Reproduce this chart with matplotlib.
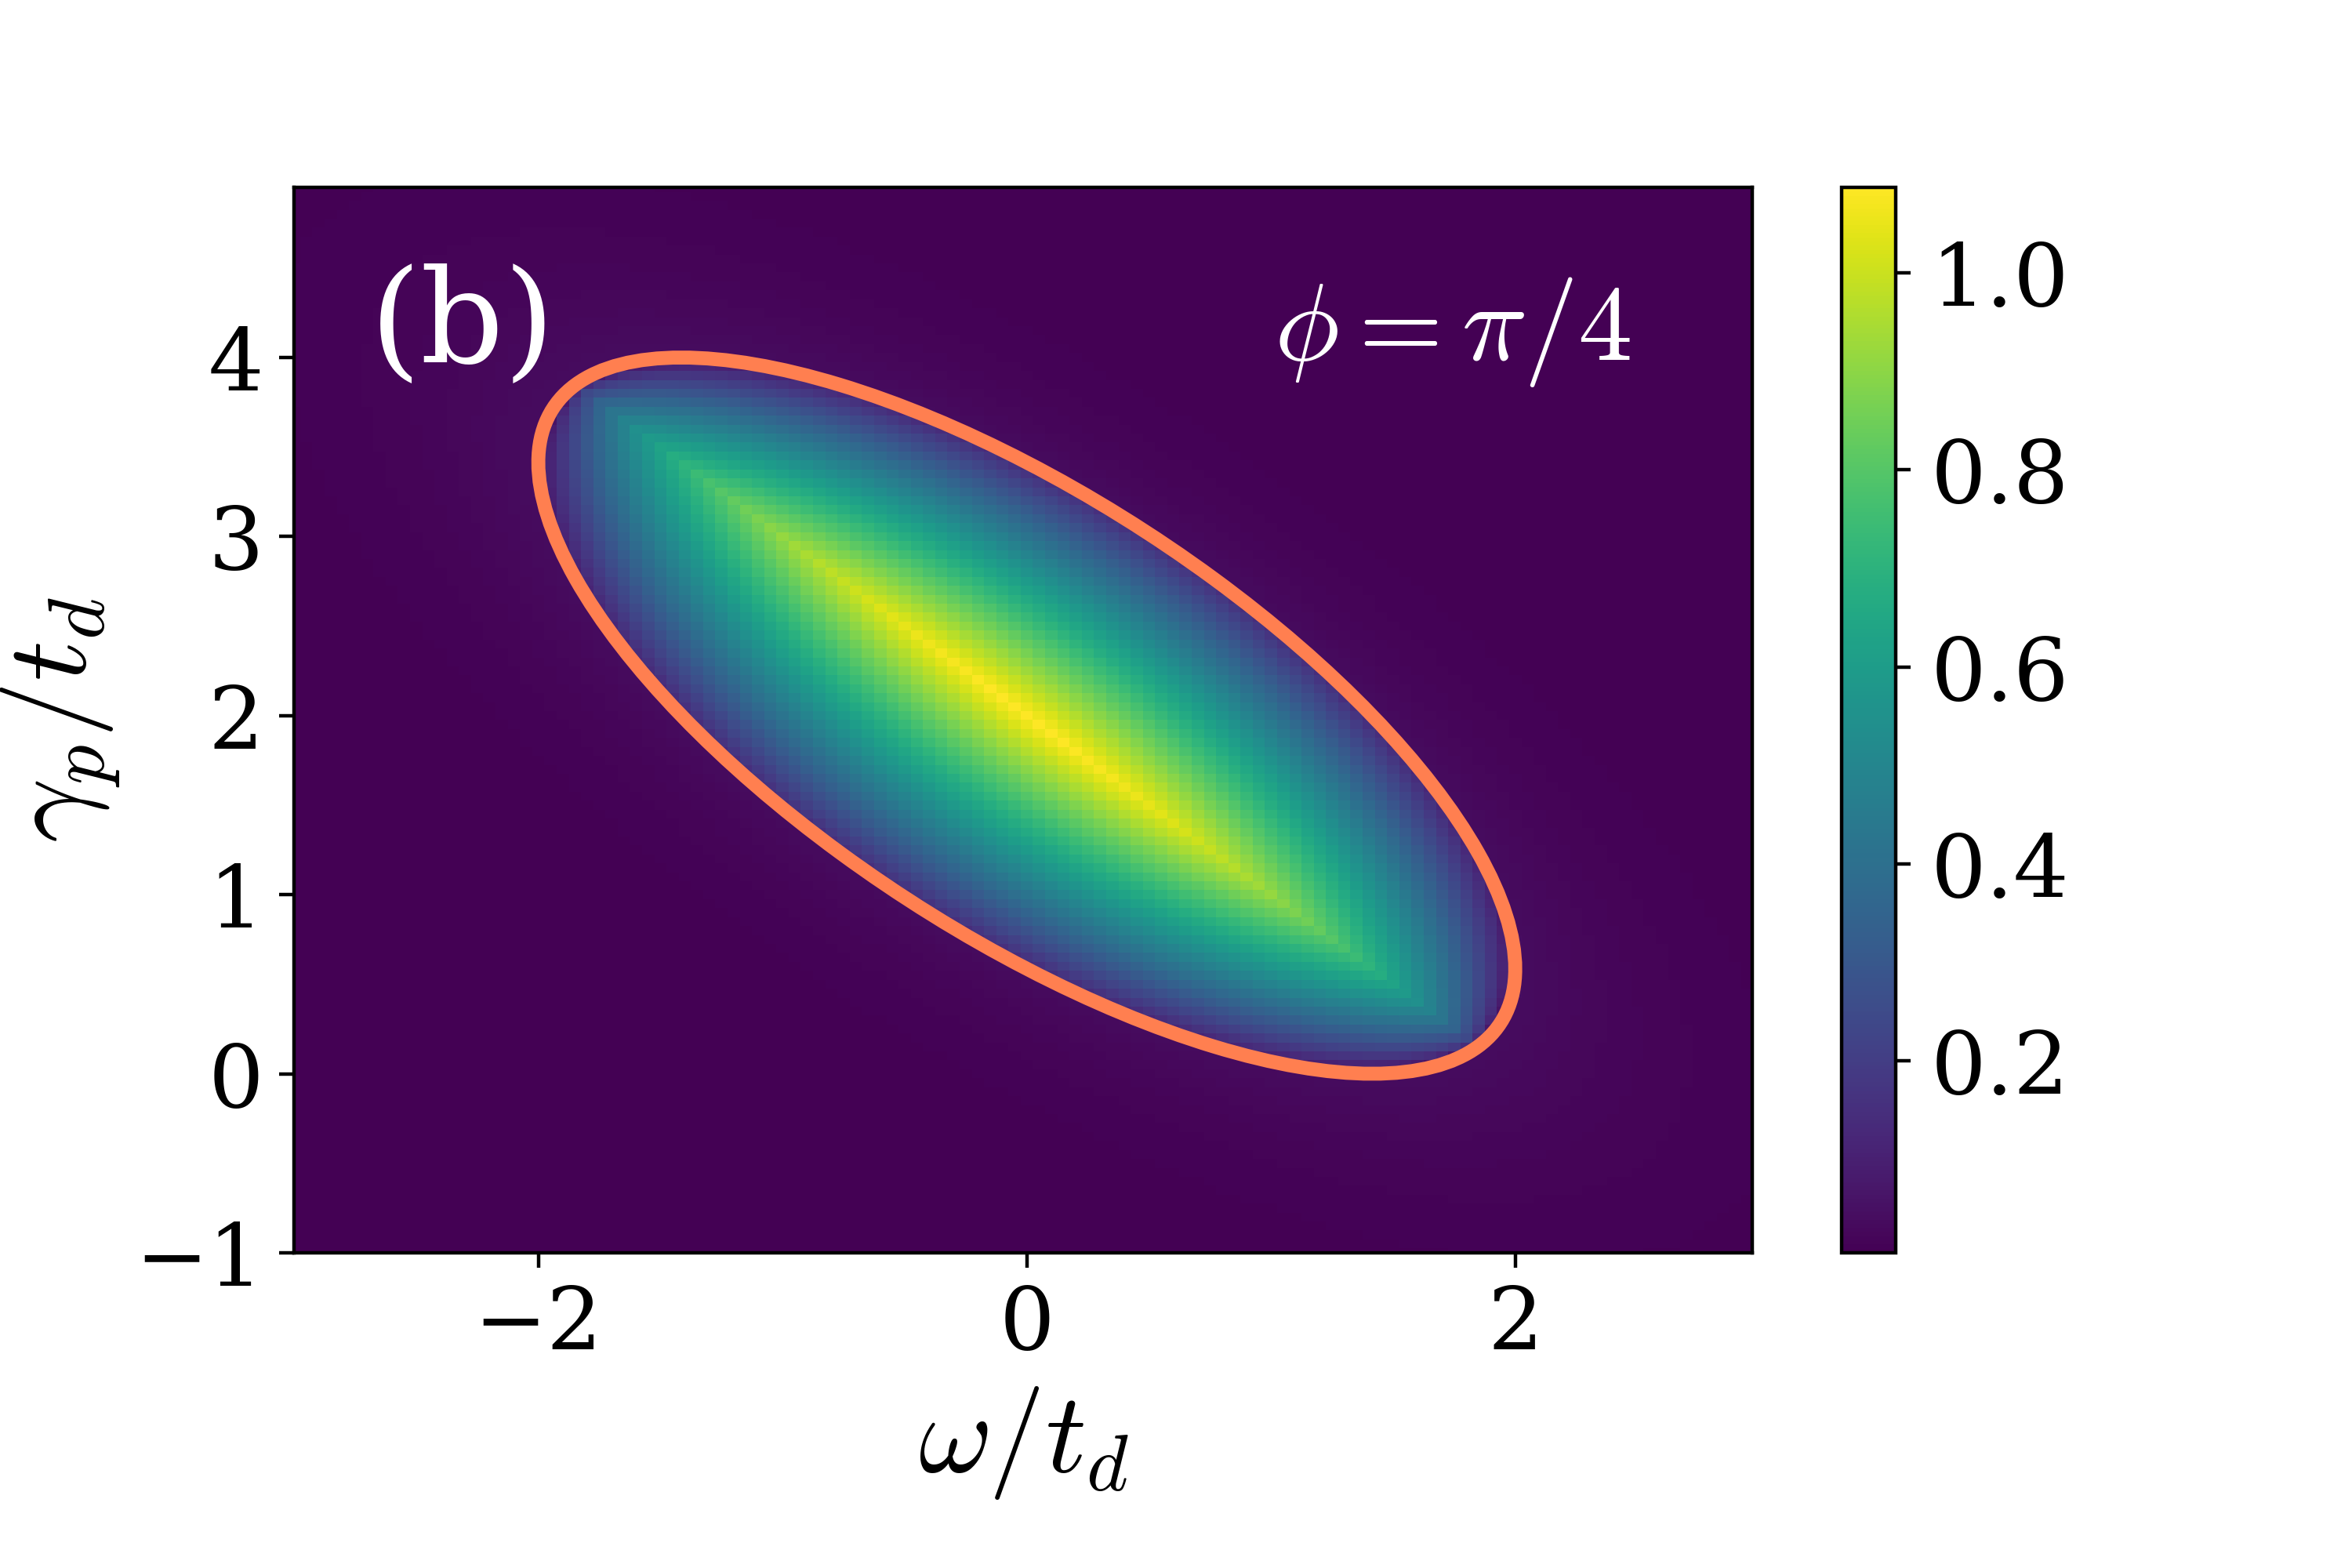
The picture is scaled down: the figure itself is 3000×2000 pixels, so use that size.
import numpy as np
import matplotlib
matplotlib.use("Agg")
import matplotlib.pyplot as plt
from matplotlib.patches import Ellipse

plt.rcParams['font.family'] = 'DejaVu Serif'
plt.rcParams['mathtext.fontset'] = 'cm'

# grid of the map (cell centres, step 0.05)
omega = np.linspace(-3.0, 2.95, 120)
gamma_p = np.linspace(-1.0, 4.95, 120)

# ellipse: w^2 + (g-2)^2 + 2 w (g-2) cos(phi) = 2
centre = (0.0, 2.0)
semi_major = 2.613
semi_minor = 1.082
tilt = -45.0
peak = 1.087      # value on the ridge at the centre
edge_frac = 0.12  # value just inside the line, relative to the ridge
floor = 0.005
halo = 0.035

W, G = np.meshgrid(omega, gamma_p)
u = W - centre[0]
v = G - centre[1]
s = (u - v) / np.sqrt(2)   # along major axis
t = (u + v) / np.sqrt(2)   # along minor axis
r2 = (s / semi_major) ** 2 + (t / semi_minor) ** 2
ridge = np.sqrt(np.clip(1 - (s / semi_major) ** 2, 0, None))
inside = peak * (ridge - (1 - edge_frac) * np.abs(t) / semi_minor)
outside = floor + halo * np.exp(-(np.sqrt(r2) - 1) / 0.25)
Z = np.where(r2 <= 1, np.maximum(inside, floor), outside)

fig = plt.figure(figsize=(7.5, 5), dpi=400)
ax = fig.add_axes([0.125, 0.201, 0.62, 0.6795])
cax = fig.add_axes([0.783, 0.201, 0.023, 0.6795])

mesh = ax.pcolormesh(omega, gamma_p, Z, cmap='viridis', shading='nearest')
ax.add_patch(Ellipse(centre, 2 * semi_major, 2 * semi_minor, angle=tilt,
                     fill=False, edgecolor='coral', lw=3.2))
ax.set_xlim(-3.0, 2.97)
ax.set_ylim(-1.0, 4.95)
ax.set_xticks([-2, 0, 2])
ax.set_yticks([-1, 0, 1, 2, 3, 4])
ax.tick_params(labelsize=20)
ax.set_xlabel(r'$\omega/t_d$', fontsize=26)
ax.set_ylabel(r'$\gamma_p/t_d$', fontsize=26, labelpad=3)

ax.text(0.052, 0.835, '(b)', color='white', fontsize=30, transform=ax.transAxes)
ax.text(0.672, 0.838, r'$\phi=\pi/4$', color='white', fontsize=25,
        transform=ax.transAxes)

cb = fig.colorbar(mesh, cax=cax)
cb.set_ticks([0.2, 0.4, 0.6, 0.8, 1.0])
cb.ax.tick_params(labelsize=20, pad=4.5)

fig.savefig('out.png', dpi=400)
